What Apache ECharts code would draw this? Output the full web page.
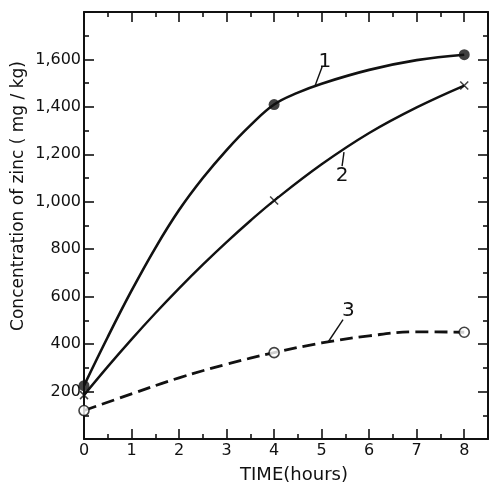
<!DOCTYPE html>
<html>
<head>
<meta charset="utf-8">
<script src="https://cdn.jsdelivr.net/npm/echarts@6/dist/echarts.min.js"></script>
<style>html,body{margin:0;padding:0;background:#fff}#c{width:491px;height:483px}</style>
</head>
<body>
<div id="c"></div>
<script>
// measured points (hours, mg/kg)
const hours = [0, 4, 8];
const zinc1 = [225, 1410, 1620];
const zinc2 = [185, 1005, 1490];
const zinc3 = [120, 364, 450];

// drawn fitted curves
const curve1X = [0, 0.5, 1, 1.5, 2, 2.5, 3, 3.5, 4, 4.5, 5, 6, 7, 8];
const curve1Y = [225, 430, 625, 805, 965, 1100, 1218, 1322, 1410, 1460, 1498, 1556, 1597, 1620];
const curve2X = [0, 0.5, 1, 1.5, 2, 2.5, 3, 3.5, 4, 5, 6, 7, 8];
const curve2Y = [185, 305, 420, 530, 635, 735, 830, 920, 1005, 1158, 1290, 1398, 1490];
const curve3X = [0, 1, 2, 3, 4, 5, 6, 7, 8];
const curve3Y = [120, 190, 258, 315, 364, 405, 435, 452, 450];

// curve labels and their leader lines (data coordinates)
const curveNames = ['1', '2', '3'];
const namePos = [[5.07, 1590], [5.43, 1108], [5.56, 540]];
const leaderFrom = [[4.86, 1488], [5.47, 1209], [5.14, 410]];
const leaderTo = [[5.01, 1569], [5.43, 1150], [5.45, 503]];

const xTicks = [0, 1, 2, 3, 4, 5, 6, 7, 8];
const yTickLabels = [200, 400, 600, 800, 1000, 1200, 1400, 1600];

const FONT = 'DejaVu Sans';
const INK = '#111';
const zip = (a, b) => a.map((v, i) => [v, b[i]]);

const chart = echarts.init(document.getElementById('c'), null, {renderer: 'canvas'});

const xBase = {
  type: 'value', min: 0, max: 8.5, interval: 1,
  axisLine: {show: true, onZero: false, lineStyle: {color: INK, width: 2}},
  axisTick: {show: true, inside: true, length: 10, lineStyle: {color: INK, width: 1.6}},
  minorTick: {show: true, splitNumber: 2, length: 5, lineStyle: {color: INK, width: 1.6}},
  splitLine: {show: false}
};
const yBase = {
  type: 'value', min: 0, max: 1800, interval: 200,
  axisLine: {show: true, onZero: false, lineStyle: {color: INK, width: 2}},
  axisTick: {show: true, inside: true, length: 10, lineStyle: {color: INK, width: 1.6}},
  minorTick: {show: true, splitNumber: 2, length: 5, lineStyle: {color: INK, width: 1.6}},
  splitLine: {show: false}
};

const option = {
  animation: false,
  backgroundColor: '#fff',
  grid: {left: 84, right: 3, top: 12, bottom: 44, containLabel: false},
  xAxis: [
    Object.assign({}, xBase, {
      position: 'bottom',
      axisLabel: {show: true, margin: 4, color: INK, fontFamily: FONT, fontSize: 16,
        formatter: v => xTicks.includes(v) ? String(v) : ''}
    }),
    Object.assign({}, xBase, {position: 'top', axisLabel: {show: false}})
  ],
  yAxis: [
    Object.assign({}, yBase, {
      position: 'left',
      axisLabel: {show: true, margin: 3, color: INK, fontFamily: FONT, fontSize: 16,
        formatter: v => yTickLabels.includes(v) ? v.toLocaleString('en-US') : ''}
    }),
    Object.assign({}, yBase, {position: 'right', axisLabel: {show: false}})
  ],
  series: [
    {type: 'line', data: zip(curve1X, curve1Y), smooth: 0.4, symbol: 'none', clip: false,
      lineStyle: {color: INK, width: 2.6}},
    {type: 'line', data: zip(curve2X, curve2Y), smooth: 0.4, symbol: 'none', clip: false,
      lineStyle: {color: INK, width: 2.4}},
    {type: 'line', data: zip(curve3X, curve3Y), smooth: 0.4, symbol: 'none', clip: false,
      lineStyle: {color: INK, width: 2.8, type: [13, 6]}},
    {type: 'scatter', data: zip(hours, zinc1), symbol: 'circle', symbolSize: 11, clip: false,
      itemStyle: {color: INK}, z: 5},
    {type: 'scatter', data: zip(hours, zinc2), symbol: 'path://M0,0L10,10M10,0L0,10', symbolSize: 8, clip: false,
      itemStyle: {color: 'none', borderColor: INK, borderWidth: 1.5}, z: 5},
    {type: 'scatter', data: zip(hours, zinc3), symbol: 'circle', symbolSize: 10, clip: false,
      itemStyle: {color: '#fff', borderColor: INK, borderWidth: 1.6}, z: 5}
  ]
};
chart.setOption(option);

const px = p => chart.convertToPixel({xAxisIndex: 0, yAxisIndex: 0}, p);
const graphics = [
  {type: 'text', x: 19, y: 196, rotation: Math.PI / 2,
    style: {text: 'Concentration of zinc ( mg / kg)', fontFamily: FONT, fontSize: 17, fill: INK,
      align: 'center', verticalAlign: 'middle'}},
  {type: 'text', x: 294, y: 475,
    style: {text: 'TIME(hours)', fontFamily: FONT, fontSize: 18, fill: INK,
      align: 'center', verticalAlign: 'middle'}}
];
curveNames.forEach((n, i) => {
  const a = px(leaderFrom[i]), b = px(leaderTo[i]), t = px(namePos[i]);
  graphics.push({type: 'line', shape: {x1: a[0], y1: a[1], x2: b[0], y2: b[1]},
    style: {stroke: INK, lineWidth: 1.4}, z: 10});
  graphics.push({type: 'text', x: t[0], y: t[1],
    style: {text: n, fontFamily: FONT, fontSize: 20, fill: INK, align: 'center', verticalAlign: 'middle'}, z: 10});
});
chart.setOption({graphic: graphics});
</script>
</body>
</html>
